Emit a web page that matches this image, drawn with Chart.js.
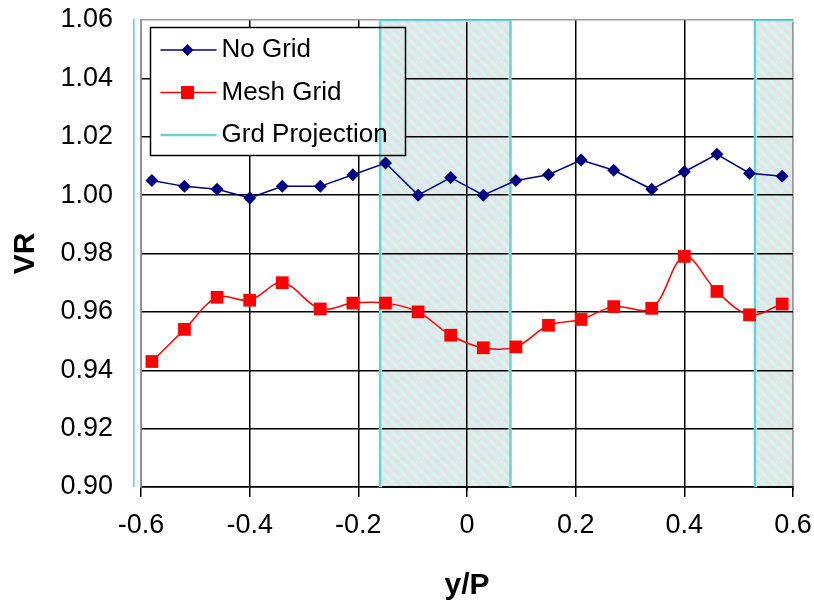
<!DOCTYPE html>
<html>
<head>
<meta charset="utf-8">
<script src="https://cdn.jsdelivr.net/npm/chart.js@4/dist/chart.umd.min.js"></script>
<style>
  html, body { margin: 0; padding: 0; background: #fff; }
  #wrap { width: 814px; height: 607px; }
</style>
</head>
<body>
<div id="wrap"><canvas id="vrChart"></canvas></div>
<script>
// measurement stations across the pitch (y/P)
const yP = [-0.58, -0.52, -0.46, -0.40, -0.34, -0.27, -0.21, -0.15, -0.09, -0.03,
            0.03, 0.09, 0.15, 0.21, 0.27, 0.34, 0.40, 0.46, 0.52, 0.58];

// velocity ratio without / with the mesh grid
const noGrid = [1.005, 1.003, 1.002, 0.999, 1.003, 1.003, 1.007, 1.011, 1.000, 1.006,
                1.000, 1.005, 1.007, 1.012, 1.0085, 1.002, 1.008, 1.014, 1.0075, 1.0065];
const meshGrid = [0.943, 0.954, 0.965, 0.964, 0.970, 0.961, 0.963, 0.963, 0.960, 0.952,
                  0.9477, 0.948, 0.9554, 0.9574, 0.9618, 0.9612, 0.979, 0.967, 0.959, 0.9627];

// shadow of the grid bars on the measurement plane
const bandStart = [-0.85, -0.16, 0.53];
const bandEnd = [-0.614, 0.08, 0.77];

const legendLabels = ['No Grid', 'Mesh Grid', 'Grd Projection'];

// axis ranges
const xMin = -0.6, xMax = 0.6, xStep = 0.2;
const yMin = 0.90, yMax = 1.06, yStep = 0.02;

const NAVY = '#000080';
const RED = '#ff0000';
const CYAN = '#66d4d4';
const FONT = "'Liberation Sans', Arial, sans-serif";

// legend box sits inside the plot, top left
const box = { x: 150.5, y: 27.5, w: 255, h: 128 };

const canvas = document.getElementById('vrChart');
const ctx = canvas.getContext('2d');

// grey fill with pale cyan diagonal hatching
function makeHatch() {
    const s = 10;
    const c = document.createElement('canvas');
    c.width = s;
    c.height = s;
    const g = c.getContext('2d');
    g.fillStyle = '#e4e4e4';
    g.fillRect(0, 0, s, s);
    g.strokeStyle = '#d0f4f4';
    g.lineWidth = 3;
    [-s, 0, s].forEach(k => {
        g.beginPath();
        g.moveTo(k, 0);
        g.lineTo(k + s, s);
        g.stroke();
    });
    return ctx.createPattern(c, 'repeat');
}
const hatch = makeHatch();

// each band: right edge up, across the top, left edge down (filled to the bottom)
const bandSets = bandStart.map((x1, i) => {
    const ds = {
        label: 'Grd Projection',
        data: [
            { x: bandEnd[i], y: yMin },
            { x: bandEnd[i], y: yMax },
            { x: x1, y: yMax },
            { x: x1, y: yMin }
        ],
        borderColor: CYAN,
        borderWidth: 2.5,
        backgroundColor: hatch,
        fill: 'start',
        pointRadius: 0,
        tension: 0,
        order: 1
    };
    if (i === 0) ds.clip = { left: 8, top: 3, right: 0, bottom: 0 };
    return ds;
});

const isNear = (a, b) => Math.abs(a - b) < 1e-6;

// legend background goes under the bands, grid is redrawn over the bands
const bandGrid = {
    id: 'bandGrid',
    beforeDatasetsDraw(chart) {
        const c = chart.ctx;
        c.save();
        c.fillStyle = '#fff';
        c.fillRect(box.x, box.y, box.w, box.h);
        c.restore();
    },
    afterDatasetDraw(chart, args) {
        if (args.index !== 2) return;
        const c = chart.ctx;
        const a = chart.chartArea;
        const sx = chart.scales.x;
        const sy = chart.scales.y;
        c.save();
        c.beginPath();
        bandStart.forEach((s, i) => {
            const l = Math.max(sx.getPixelForValue(s) + 2, a.left);
            const r = Math.min(sx.getPixelForValue(bandEnd[i]) - 2, a.right + 1);
            if (r <= l) return;
            c.rect(l, a.top + 2, r - l, a.bottom - a.top + 2);
            const il = Math.max(l, box.x);
            const ir = Math.min(r, box.x + box.w);
            if (ir > il) c.rect(il, box.y, ir - il, box.h);
        });
        c.clip('evenodd');
        sx.drawGrid(a);
        sy.drawGrid(a);
        if (sx.drawBorder) sx.drawBorder();
        c.restore();
    }
};

// legend frame, samples and text
const insideLegend = {
    id: 'insideLegend',
    afterDraw(chart) {
        const c = chart.ctx;
        c.save();
        c.strokeStyle = '#000';
        c.lineWidth = 1.5;
        c.strokeRect(box.x, box.y, box.w, box.h);
        legendLabels.forEach((text, i) => {
            const ds = chart.data.datasets[i];
            const cy = box.y + 22.5 + i * 42.5;
            c.strokeStyle = ds.borderColor;
            c.lineWidth = i === 2 ? 2.5 : 1.5;
            c.beginPath();
            c.moveTo(box.x + 10, cy);
            c.lineTo(box.x + 66, cy);
            c.stroke();
            c.fillStyle = ds.borderColor;
            const mx = box.x + 37;
            if (i === 0) {
                c.beginPath();
                c.moveTo(mx, cy - 6);
                c.lineTo(mx + 6, cy);
                c.lineTo(mx, cy + 6);
                c.lineTo(mx - 6, cy);
                c.closePath();
                c.fill();
            } else if (i === 1) {
                c.fillRect(mx - 6.5, cy - 6.5, 13, 13);
            }
            c.fillStyle = '#000';
            c.font = '26px ' + FONT;
            c.textAlign = 'left';
            c.textBaseline = 'middle';
            c.fillText(text, box.x + 71, cy);
        });
        c.restore();
    }
};

new Chart(ctx, {
    type: 'line',
    data: {
        datasets: [
            {
                label: legendLabels[0],
                data: yP.map((x, i) => ({ x: x, y: noGrid[i] })),
                borderColor: NAVY,
                backgroundColor: NAVY,
                borderWidth: 1.5,
                pointStyle: 'rectRot',
                pointRadius: 6.5,
                pointBorderWidth: 0,
                tension: 0,
                fill: false,
                order: 0
            },
            {
                label: legendLabels[1],
                data: yP.map((x, i) => ({ x: x, y: meshGrid[i] })),
                borderColor: RED,
                backgroundColor: RED,
                borderWidth: 1.5,
                pointStyle: 'rect',
                pointRadius: 9,
                pointBorderWidth: 0,
                tension: 0.35,
                fill: false,
                order: 0
            },
            ...bandSets
        ]
    },
    options: {
        responsive: true,
        maintainAspectRatio: false,
        animation: false,
        layout: { padding: { left: 0, top: 20, right: 21, bottom: 0 } },
        plugins: {
            legend: { display: false },
            tooltip: { enabled: false }
        },
        scales: {
            x: {
                type: 'linear',
                min: xMin,
                max: xMax,
                ticks: {
                    stepSize: xStep,
                    padding: 12,
                    color: '#000',
                    font: { family: FONT, size: 27 },
                    callback: v => Math.abs(v) < 1e-9 ? '0' : v.toFixed(1)
                },
                grid: {
                    color: c => isNear(c.tick.value, xMax) ? '#9a9a9a' : '#000',
                    lineWidth: 1.5,
                    tickLength: 10,
                    tickColor: '#000'
                },
                border: { color: '#000', width: 1.5 },
                title: {
                    display: true,
                    text: 'y/P',
                    color: '#000',
                    font: { family: FONT, size: 30, weight: 'bold' },
                    padding: { top: 0, bottom: 3 }
                },
                afterFit: s => {
                    s.height = 120;
                    s.paddingLeft = 0;
                    s.paddingRight = 0;
                }
            },
            y: {
                min: yMin,
                max: yMax,
                ticks: {
                    stepSize: yStep,
                    padding: 28,
                    color: '#000',
                    font: { family: FONT, size: 27 },
                    callback: v => v.toFixed(2)
                },
                grid: {
                    color: c => isNear(c.tick.value, yMax) ? '#9a9a9a' : '#000',
                    lineWidth: 1.5,
                    drawTicks: false
                },
                border: { color: '#9a9a9a', width: 1.5 },
                title: {
                    display: true,
                    text: 'VR',
                    color: '#000',
                    font: { family: FONT, size: 30, weight: 'bold' },
                    padding: { top: 8, bottom: 0 }
                },
                afterFit: s => {
                    s.width = 141;
                    s.paddingTop = 0;
                    s.paddingBottom = 0;
                }
            }
        }
    },
    plugins: [bandGrid, insideLegend]
});
</script>
</body>
</html>
